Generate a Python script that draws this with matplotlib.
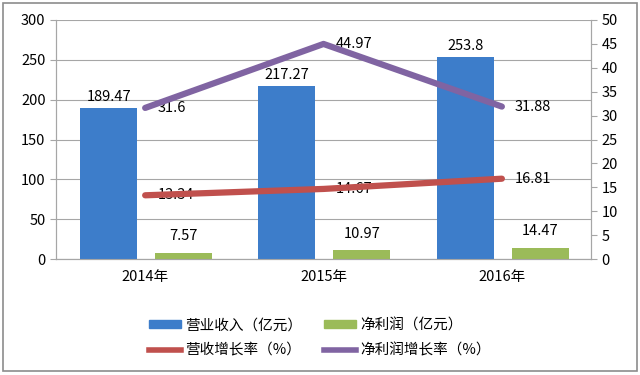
import matplotlib.pyplot as plt
import numpy as np
from matplotlib.patches import Rectangle, Patch
from matplotlib.lines import Line2D

plt.rcParams['font.family'] = ['Noto Sans CJK SC', 'DejaVu Sans']

# 数据
years = ["2014年", "2015年", "2016年"]
revenue = [189.47, 217.27, 253.8]          # 营业收入（亿元）
profit = [7.57, 10.97, 14.47]              # 净利润（亿元）
rev_growth = [13.34, 14.67, 16.81]         # 营收增长率（%）
profit_growth = [31.6, 44.97, 31.88]       # 净利润增长率（%）

c_blue = "#3D7DCA"
c_green = "#9BBB59"
c_red = "#C0504D"
c_purple = "#8064A2"
c_grid = "#A6A6A6"

fig = plt.figure(figsize=(6.4, 3.75), dpi=100)
ax = fig.add_axes([0.0875, 0.309, 0.836, 0.638])
ax2 = ax.twinx()

x = np.arange(len(years))
w = 0.32

ax.bar(x - 0.205, revenue, w, color=c_blue, zorder=3)
ax.bar(x + 0.215, profit, w, color=c_green, zorder=3)

for i in range(len(years)):
    ax.annotate(f"{revenue[i]:g}", (x[i] - 0.205, revenue[i]), xytext=(0, 3),
                textcoords="offset points", ha="center", va="bottom", fontsize=10.5)
    ax.annotate(f"{profit[i]:g}", (x[i] + 0.215, profit[i]), xytext=(0, 7),
                textcoords="offset points", ha="center", va="bottom", fontsize=10.5)

ax2.plot(x, rev_growth, color=c_red, lw=4.5, solid_capstyle="round", zorder=4)
ax2.plot(x, profit_growth, color=c_purple, lw=4.5, solid_capstyle="round", zorder=4)
for i in range(len(years)):
    ax2.annotate(f"{rev_growth[i]:g}", (x[i], rev_growth[i]), xytext=(9, 0),
                 textcoords="offset points", ha="left", va="center", fontsize=10.5)
    ax2.annotate(f"{profit_growth[i]:g}", (x[i], profit_growth[i]), xytext=(9, 0),
                 textcoords="offset points", ha="left", va="center", fontsize=10.5)

ax.set_xlim(-0.5, 2.5)
ax.set_ylim(0, 300)
ax.set_yticks(range(0, 301, 50))
ax2.set_ylim(0, 50)
ax2.set_yticks(range(0, 51, 5))
ax.set_xticks(x)
ax.set_xticklabels(years, fontsize=10.5)
ax.tick_params(axis="x", length=0, pad=8)
ax.tick_params(axis="y", labelsize=10.5, length=4, color=c_grid)
ax2.tick_params(axis="y", labelsize=10.5, length=4, color=c_grid)
ax.grid(axis="y", color=c_grid, lw=0.8, zorder=0)
ax.set_axisbelow(True)

for a in (ax, ax2):
    a.spines["top"].set_visible(False)
    for s in ("left", "right", "bottom"):
        a.spines[s].set_color(c_grid)
        a.spines[s].set_linewidth(0.8)

# 图例：第一行柱子，第二行折线
handles = [Patch(color=c_blue), Line2D([], [], color=c_red, lw=4),
           Patch(color=c_green), Line2D([], [], color=c_purple, lw=4)]
labels = ["营业收入（亿元）", "营收增长率（%）", "净利润（亿元）", "净利润增长率（%）"]
fig.legend(handles, labels, loc="center", bbox_to_anchor=(0.5, 0.099), ncol=2,
           frameon=False, fontsize=10.5, handlelength=2.2, handleheight=0.5,
           columnspacing=1.5, handletextpad=0.3, labelspacing=0.75)

fig.patches.append(Rectangle((0.004, 0.012), 0.992, 0.98, transform=fig.transFigure,
                             fill=False, edgecolor="#8C8C8C", lw=1.2))

plt.savefig("out.png", dpi=100)
